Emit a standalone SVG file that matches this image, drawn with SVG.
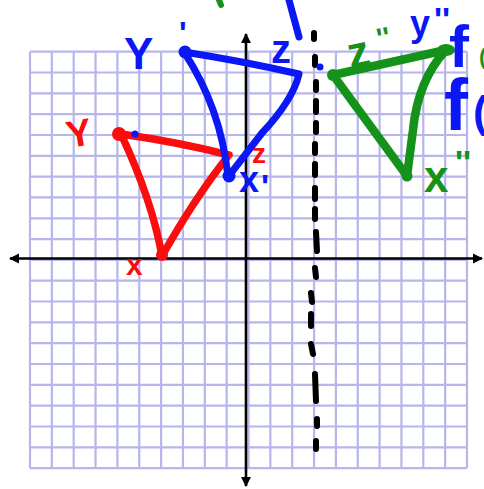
<svg xmlns="http://www.w3.org/2000/svg" width="484" height="489" viewBox="0 0 484 489">
<defs>
<style>
.grid line{stroke:#b6b6ec;stroke-width:2.2}
.ax{stroke:#000;stroke-width:2.6;fill:none}
.hand{fill:none;stroke-linecap:round;stroke-linejoin:round}
.lbl{font-family:"Liberation Sans",Arial,sans-serif;font-weight:bold}
.blue{stroke:#0b17f5}
.red{stroke:#fa0d0d}
.green{stroke:#15921a}
.fb{fill:#0b17f5}
.fr{fill:#fa0d0d}
.fg{fill:#15921a}
</style>
<marker id="arr" viewBox="0 0 10 10" refX="9" refY="5" markerWidth="4" markerHeight="4" orient="auto-start-reverse" markerUnits="strokeWidth">
<path d="M0,0 L10,5 L0,10 Z" fill="#000"/>
</marker>
</defs>
<rect width="484" height="489" fill="#fff"/>
<g id="grid" class="grid">
<line x1="30" y1="51.7" x2="30" y2="468.1"/>
<line x1="51.85" y1="51.7" x2="51.85" y2="468.1"/>
<line x1="73.7" y1="51.7" x2="73.7" y2="468.1"/>
<line x1="95.55" y1="51.7" x2="95.55" y2="468.1"/>
<line x1="117.4" y1="51.7" x2="117.4" y2="468.1"/>
<line x1="139.25" y1="51.7" x2="139.25" y2="468.1"/>
<line x1="161.1" y1="51.7" x2="161.1" y2="468.1"/>
<line x1="182.95" y1="51.7" x2="182.95" y2="468.1"/>
<line x1="204.8" y1="51.7" x2="204.8" y2="468.1"/>
<line x1="226.65" y1="51.7" x2="226.65" y2="468.1"/>
<line x1="248.5" y1="51.7" x2="248.5" y2="468.1"/>
<line x1="270.35" y1="51.7" x2="270.35" y2="468.1"/>
<line x1="292.2" y1="51.7" x2="292.2" y2="468.1"/>
<line x1="314.05" y1="51.7" x2="314.05" y2="468.1"/>
<line x1="335.9" y1="51.7" x2="335.9" y2="468.1"/>
<line x1="357.75" y1="51.7" x2="357.75" y2="468.1"/>
<line x1="379.6" y1="51.7" x2="379.6" y2="468.1"/>
<line x1="401.45" y1="51.7" x2="401.45" y2="468.1"/>
<line x1="423.3" y1="51.7" x2="423.3" y2="468.1"/>
<line x1="445.15" y1="51.7" x2="445.15" y2="468.1"/>
<line x1="467" y1="51.7" x2="467" y2="468.1"/>
<line x1="30" y1="51.7" x2="467" y2="51.7"/>
<line x1="30" y1="72.5" x2="467" y2="72.5"/>
<line x1="30" y1="93.3" x2="467" y2="93.3"/>
<line x1="30" y1="114.2" x2="467" y2="114.2"/>
<line x1="30" y1="135" x2="467" y2="135"/>
<line x1="30" y1="155.8" x2="467" y2="155.8"/>
<line x1="30" y1="176.6" x2="467" y2="176.6"/>
<line x1="30" y1="197.4" x2="467" y2="197.4"/>
<line x1="30" y1="218.3" x2="467" y2="218.3"/>
<line x1="30" y1="239.1" x2="467" y2="239.1"/>
<line x1="30" y1="259.9" x2="467" y2="259.9"/>
<line x1="30" y1="280.7" x2="467" y2="280.7"/>
<line x1="30" y1="301.5" x2="467" y2="301.5"/>
<line x1="30" y1="322.4" x2="467" y2="322.4"/>
<line x1="30" y1="343.2" x2="467" y2="343.2"/>
<line x1="30" y1="364" x2="467" y2="364"/>
<line x1="30" y1="384.8" x2="467" y2="384.8"/>
<line x1="30" y1="405.6" x2="467" y2="405.6"/>
<line x1="30" y1="426.5" x2="467" y2="426.5"/>
<line x1="30" y1="447.3" x2="467" y2="447.3"/>
<line x1="30" y1="468.1" x2="467" y2="468.1"/>
</g>
<g id="axes">
<line class="ax" x1="10" y1="258.5" x2="482" y2="258.5" marker-start="url(#arr)" marker-end="url(#arr)"/>
<line class="ax" x1="246" y1="34" x2="246" y2="486" marker-start="url(#arr)" marker-end="url(#arr)"/>
</g>
<g id="mirror-line">
<path class="hand" stroke="#000" stroke-width="6" d="M314,33 L314,39 M315,57 L315,65 M316,82 L316,90 M316,101 L316,112 M316,123 L316,132 M315,144 L315,153 M315,164 L315,175 M315,188 L315,199 M315,209 L315,219 M316,232 L317,251 M315,268 L316,277 M311,293 L312,302 M311,314 L311,326 M311,344 L313,354 M315,374 L316,401 M317,419 L317,426 M316,441 L316,449"/>
</g>
<g id="triangle-xyz">
<path class="hand red" stroke-width="7.5" d="M121,134 Q178,142 229,155 Q196,196 162,256 Q152,200 121,134 Z"/>
<circle class="fr" cx="119" cy="134" r="7"/>
<circle class="fr" cx="162" cy="255" r="6"/>
<circle class="fb" cx="135" cy="134" r="3.5"/>
</g>
<g id="triangle-xyz-prime">
<path class="hand blue" stroke-width="7" d="M184,52 Q242,61 299,74 Q293,100 262,133 L228,177 Q221,108 184,52 Z"/>
<circle class="fb" cx="185" cy="52" r="6.5"/>
<circle class="fb" cx="229" cy="176" r="6.5"/>
<circle class="fb" cx="320" cy="67" r="3.5"/>
<line class="hand blue" stroke-width="7" x1="289" y1="0" x2="299" y2="37"/>
</g>
<g id="triangle-xyz-double-prime">
<path class="hand green" stroke-width="8.5" d="M333,75 L446,50 Q418,80 413,130 L407,176 Z"/>
<circle class="fg" cx="333" cy="75" r="6"/>
<ellipse class="fg" cx="446" cy="50" rx="9" ry="6"/>
<circle class="fg" cx="407" cy="176" r="5.5"/>
<line class="hand green" stroke-width="6" x1="219" y1="0" x2="221" y2="5"/>
</g>
<g id="labels" class="lbl">
<text class="fr" x="66" y="146" font-size="38" transform="rotate(-10 80 132)">Y</text>
<text class="fr" x="252" y="163" font-size="28">z</text>
<text class="fr" x="126" y="275" font-size="30">x</text>
<text class="fb" x="124" y="69" font-size="44">Y<tspan x="179" y="44" font-size="32">'</tspan></text>
<text class="fb" x="271" y="63" font-size="40">z</text>
<text class="fb" x="239" y="192" font-size="36">x<tspan x="261" y="198" font-size="34">'</tspan></text>
<text class="fg" x="348" y="66" font-size="44" transform="rotate(-12 362 55)">z<tspan x="380" y="52" font-size="28">''</tspan></text>
<text class="fb" x="410" y="36" font-size="36">y<tspan x="434" y="31" font-size="34">''</tspan></text>
<text class="fg" x="424" y="192" font-size="44">x<tspan x="455" y="174" font-size="34">''</tspan></text>
<text class="fb" x="449" y="67" font-size="60">f</text>
<text class="fg" x="479" y="64" font-size="22">(</text>
<text class="fb" x="444" y="130" font-size="72">f</text>
<text class="fb" x="473" y="127" font-size="44">(</text>
</g>
</svg>
